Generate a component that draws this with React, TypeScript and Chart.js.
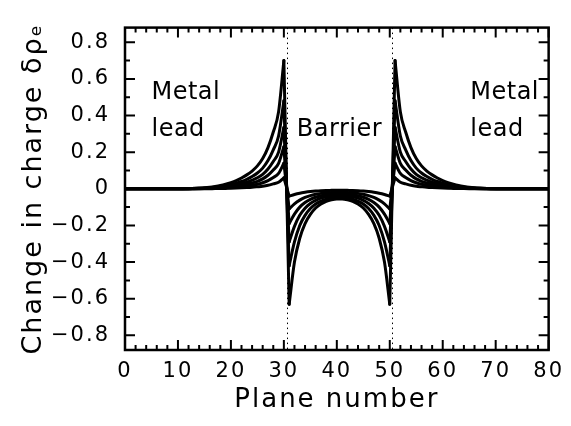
import React, { useEffect, useRef } from 'react';
import { Chart, registerables } from 'chart.js';

Chart.register(...registerables);

// ---- Data ----
// Plane numbers of the left metal lead, the barrier and the right metal lead
const leftLeadX = [0, 10, 12, 13, 14, 15, 16, 17, 18, 19, 20, 21, 22, 23, 24, 25, 26, 27, 28, 29, 30];
const barrierX = [31, 32, 33, 34, 35, 36, 37, 38, 39, 40, 41, 42, 43, 44, 45, 46, 47, 48, 49, 50];
const rightLeadX = [51, 52, 53, 54, 55, 56, 57, 58, 59, 60, 61, 62, 63, 64, 65, 66, 67, 68, 69, 71, 80];

// Curve 1 (largest response)
const left1 = [0, 0, 0.0012, 0.0025, 0.004, 0.006, 0.009, 0.013, 0.018, 0.025, 0.034, 0.045, 0.059, 0.076, 0.097, 0.125, 0.165, 0.225, 0.31, 0.42, 0.7];
const barrier1 = [-0.63, -0.4, -0.27, -0.19, -0.14, -0.105, -0.083, -0.068, -0.06, -0.056, -0.056, -0.06, -0.068, -0.083, -0.105, -0.14, -0.19, -0.27, -0.4, -0.63];
const right1 = [0.7, 0.42, 0.31, 0.225, 0.165, 0.125, 0.097, 0.076, 0.059, 0.045, 0.034, 0.025, 0.018, 0.013, 0.009, 0.006, 0.004, 0.0025, 0.0012, 0, 0];

// Curve 2
const left2 = [0, 0, 0.0008, 0.0017, 0.0027, 0.004, 0.006, 0.009, 0.012, 0.017, 0.023, 0.031, 0.04, 0.052, 0.067, 0.086, 0.113, 0.154, 0.213, 0.288, 0.48];
const barrier2 = [-0.42, -0.29, -0.2, -0.145, -0.108, -0.083, -0.067, -0.056, -0.049, -0.046, -0.046, -0.049, -0.056, -0.067, -0.083, -0.108, -0.145, -0.2, -0.29, -0.42];
const right2 = [0.48, 0.288, 0.213, 0.154, 0.113, 0.086, 0.067, 0.052, 0.04, 0.031, 0.023, 0.017, 0.012, 0.009, 0.006, 0.004, 0.0027, 0.0017, 0.0008, 0, 0];

// Curve 3
const left3 = [0, 0, 0.0006, 0.0012, 0.0019, 0.0029, 0.0043, 0.0062, 0.0086, 0.012, 0.016, 0.022, 0.028, 0.036, 0.047, 0.06, 0.079, 0.108, 0.149, 0.2, 0.335];
const barrier3 = [-0.29, -0.205, -0.145, -0.106, -0.08, -0.063, -0.051, -0.044, -0.039, -0.037, -0.037, -0.039, -0.044, -0.051, -0.063, -0.08, -0.106, -0.145, -0.205, -0.29];
const right3 = [0.335, 0.2, 0.149, 0.108, 0.079, 0.06, 0.047, 0.036, 0.028, 0.022, 0.016, 0.012, 0.0086, 0.0062, 0.0043, 0.0029, 0.0019, 0.0012, 0.0006, 0, 0];

// Curve 4
const left4 = [0, 0, 0.0004, 0.0008, 0.0013, 0.002, 0.003, 0.0043, 0.0059, 0.0083, 0.011, 0.015, 0.019, 0.025, 0.032, 0.041, 0.054, 0.074, 0.102, 0.139, 0.23];
const barrier4 = [-0.19, -0.138, -0.1, -0.075, -0.058, -0.046, -0.038, -0.033, -0.03, -0.028, -0.028, -0.03, -0.033, -0.038, -0.046, -0.058, -0.075, -0.1, -0.138, -0.19];
const right4 = [0.23, 0.139, 0.102, 0.074, 0.054, 0.041, 0.032, 0.025, 0.019, 0.015, 0.011, 0.0083, 0.0059, 0.0043, 0.003, 0.002, 0.0013, 0.0008, 0.0004, 0, 0];

// Curve 5
const left5 = [0, 0, 0.0002, 0.0005, 0.0008, 0.0012, 0.0018, 0.0026, 0.0036, 0.005, 0.0068, 0.009, 0.012, 0.015, 0.019, 0.025, 0.033, 0.045, 0.062, 0.084, 0.14];
const barrier5 = [-0.11, -0.082, -0.062, -0.047, -0.037, -0.03, -0.025, -0.022, -0.02, -0.019, -0.019, -0.02, -0.022, -0.025, -0.03, -0.037, -0.047, -0.062, -0.082, -0.11];
const right5 = [0.14, 0.084, 0.062, 0.045, 0.033, 0.025, 0.019, 0.015, 0.012, 0.009, 0.0068, 0.005, 0.0036, 0.0026, 0.0018, 0.0012, 0.0008, 0.0005, 0.0002, 0, 0];

// Curve 6 (smallest response)
const left6 = [0, 0, 0.0001, 0.0002, 0.0003, 0.0005, 0.0008, 0.0011, 0.0015, 0.0022, 0.0029, 0.0039, 0.0051, 0.0065, 0.0083, 0.011, 0.014, 0.019, 0.027, 0.036, 0.06];
const barrier6 = [-0.04, -0.031, -0.024, -0.019, -0.015, -0.012, -0.01, -0.009, -0.0085, -0.008, -0.008, -0.0085, -0.009, -0.01, -0.012, -0.015, -0.019, -0.024, -0.031, -0.04];
const right6 = [0.06, 0.036, 0.027, 0.019, 0.014, 0.011, 0.0083, 0.0065, 0.0051, 0.0039, 0.0029, 0.0022, 0.0015, 0.0011, 0.0008, 0.0005, 0.0003, 0.0002, 0.0001, 0, 0];

const leftCurves = [left1, left2, left3, left4, left5, left6];
const barrierCurves = [barrier1, barrier2, barrier3, barrier4, barrier5, barrier6];
const rightCurves = [right1, right2, right3, right4, right5, right6];

// Interfaces (dotted lines)
const interfaces = [30.5, 50.5];

// Axis settings
const xMin = 0;
const xMax = 80;
const yMin = -0.88;
const yMax = 0.88;
const xTickStep = 10;
const yTickStep = 0.2;

// Text annotations
const noteTexts = ['Metal', 'lead', 'Barrier', 'Metal', 'lead'];
const noteX = [5, 5, 40.5, 65.2, 65.2];
const noteY = [0.49, 0.288, 0.288, 0.49, 0.288];
const noteAlign = ['left', 'left', 'center', 'left', 'left'];

const FONT = '"DejaVu Sans", sans-serif';

function pts(xs: number[], ys: number[]) {
  return xs.map((x, i) => ({ x, y: ys[i] }));
}

const framePlugin = {
  id: 'frameTicks',
  beforeDraw(chart: any) {
    (chart.ctx as any).letterSpacing = '2px';
  },
  beforeDatasetsDraw(chart: any) {
    const { ctx, chartArea: a, scales } = chart;
    ctx.save();
    ctx.strokeStyle = '#000';
    ctx.lineWidth = 1;
    ctx.setLineDash([1.5, 3.5]);
    for (const v of interfaces) {
      const px = Math.round(scales.x.getPixelForValue(v)) + 0.5;
      ctx.beginPath();
      ctx.moveTo(px, a.top);
      ctx.lineTo(px, a.bottom);
      ctx.stroke();
    }
    ctx.restore();
  },
  afterDatasetsDraw(chart: any) {
    const { ctx, chartArea: a, scales } = chart;
    const sx = scales.x;
    const sy = scales.y;
    ctx.save();
    ctx.strokeStyle = '#000';
    ctx.lineWidth = 2;
    ctx.beginPath();
    // x ticks (inside, bottom and top)
    for (let v = xMin; v <= xMax + 1e-9; v += 2) {
      const major = Math.abs(v % xTickStep) < 1e-9;
      const len = major ? 10 : 5;
      const px = sx.getPixelForValue(v);
      ctx.moveTo(px, a.bottom);
      ctx.lineTo(px, a.bottom - len);
      ctx.moveTo(px, a.top);
      ctx.lineTo(px, a.top + len);
    }
    // y ticks (inside, left and right)
    for (let i = -8; i <= 8; i++) {
      const v = i / 10;
      const major = i % 2 === 0;
      const len = major ? 10 : 5;
      const py = sy.getPixelForValue(v);
      ctx.moveTo(a.left, py);
      ctx.lineTo(a.left + len, py);
      ctx.moveTo(a.right, py);
      ctx.lineTo(a.right - len, py);
    }
    ctx.stroke();
    ctx.lineWidth = 2.5;
    ctx.strokeRect(a.left, a.top, a.right - a.left, a.bottom - a.top);
    ctx.restore();

    // annotations
    ctx.save();
    (ctx as any).letterSpacing = '0.5px';
    ctx.fillStyle = '#000';
    ctx.font = `24px ${FONT}`;
    ctx.textBaseline = 'alphabetic';
    noteTexts.forEach((t, i) => {
      ctx.textAlign = noteAlign[i] as CanvasTextAlign;
      ctx.fillText(t, sx.getPixelForValue(noteX[i]), sy.getPixelForValue(noteY[i]));
    });
    ctx.restore();
  },
};

export default function App() {
  const ref = useRef<HTMLCanvasElement | null>(null);
  useEffect(() => {
    document.body.style.margin = '0';
    const datasets: any[] = [];
    const base = {
      borderColor: '#000',
      borderWidth: 3,
      pointRadius: 0,
      fill: false,
      borderCapStyle: 'round',
      borderJoinStyle: 'round',
    };
    for (let c = 0; c < leftCurves.length; c++) {
      const L = leftCurves[c];
      const B = barrierCurves[c];
      const R = rightCurves[c];
      datasets.push({ ...base, data: pts(leftLeadX, L), cubicInterpolationMode: 'monotone' });
      datasets.push({ ...base, data: pts(barrierX, B), cubicInterpolationMode: 'monotone' });
      datasets.push({ ...base, data: pts(rightLeadX, R), cubicInterpolationMode: 'monotone' });
      datasets.push({
        ...base,
        tension: 0,
        data: [
          { x: leftLeadX[leftLeadX.length - 1], y: L[L.length - 1] },
          { x: barrierX[0], y: B[0] },
        ],
      });
      datasets.push({
        ...base,
        tension: 0,
        data: [
          { x: barrierX[barrierX.length - 1], y: B[B.length - 1] },
          { x: rightLeadX[0], y: R[0] },
        ],
      });
    }
    const chart = new Chart(ref.current as HTMLCanvasElement, {
      type: 'line',
      data: { datasets },
      options: {
        animation: false,
        responsive: false,
        devicePixelRatio: 1,
        layout: { padding: { left: 0, right: 19, top: 20, bottom: 0 } },
        plugins: { legend: { display: false }, tooltip: { enabled: false } },
        scales: {
          x: {
            type: 'linear',
            min: xMin,
            max: xMax,
            grid: { display: false, drawTicks: false },
            border: { display: false },
            ticks: {
              stepSize: xTickStep,
              color: '#000',
              font: { family: FONT, size: 21 },
              padding: 9,
              maxRotation: 0,
            },
            title: {
              display: true,
              text: 'Plane number',
              color: '#000',
              font: { family: FONT, size: 26 },
              padding: { top: 0, bottom: 10 },
            },
            afterFit: (s: any) => {
              s.height = 76;
            },
          },
          y: {
            type: 'linear',
            min: yMin,
            max: yMax,
            grid: { display: false, drawTicks: false },
            border: { display: false },
            ticks: {
              stepSize: yTickStep,
              includeBounds: false,
              color: '#000',
              font: { family: FONT, size: 21 },
              padding: 15,
              callback: (v: any) => {
                const n = Number(v);
                if (Math.abs(n) < 1e-9) return '0';
                return (n < 0 ? '\u2212' : '') + Math.abs(n).toFixed(1);
              },
            },
            title: {
              display: true,
              text: 'Change in charge \u03b4\u03c1\u2091',
              color: '#000',
              font: { family: FONT, size: 27 },
              padding: { top: 18, bottom: 0 },
            },
            afterFit: (s: any) => {
              s.width = 125;
            },
          },
        },
      },
      plugins: [framePlugin],
    } as any);
    return () => chart.destroy();
  }, []);
  return (
    <div style={{ width: 571, height: 426 }}>
      <canvas ref={ref} width={571} height={426} style={{ display: 'block' }} />
    </div>
  );
}
